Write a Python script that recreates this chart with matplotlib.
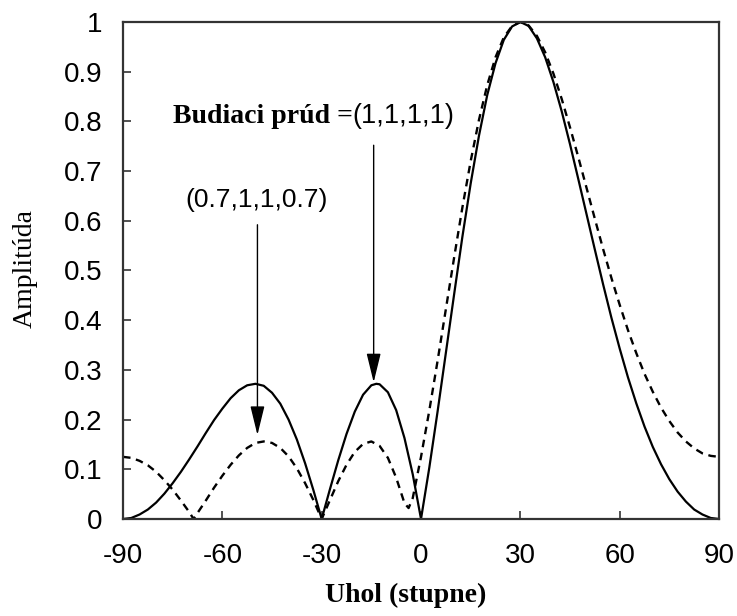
import matplotlib
matplotlib.use("Agg")
import matplotlib.pyplot as plt

# uniform feed (1,1,1,1), solid line
uhol_plny = [-90, -87.5, -85, -82.5, -80, -77.5, -75, -72.5, -70, -67.5, -65, -62.5,
             -60, -57.5, -55, -52.5, -50, -47.5, -45, -42.5, -40, -37.5, -35, -32.5,
             -30, -27.5, -25, -22.5, -20, -17.5, -15, -13.5, -12.5, -10, -7.5, -5, -2.5,
             0, 2.5, 5, 7.5, 10, 12.5, 15, 17.5, 20, 22.5, 25, 27.5,
             30, 32.5, 35, 37.5, 40, 42.5, 45, 47.5, 50, 52.5, 55, 57.5,
             60, 62.5, 65, 67.5, 70, 72.5, 75, 77.5, 80, 82.5, 85, 87.5, 90]
amp_plny = [0, 0.002, 0.009, 0.019, 0.033, 0.051, 0.072, 0.095, 0.120, 0.146, 0.173, 0.199,
            0.222, 0.243, 0.259, 0.269, 0.272, 0.268, 0.254, 0.232, 0.200, 0.160, 0.112, 0.058,
            0, 0.060, 0.118, 0.171, 0.216, 0.250, 0.269, 0.272, 0.271, 0.255, 0.219, 0.163, 0.090,
            0, 0.103, 0.216, 0.334, 0.452, 0.568, 0.675, 0.771, 0.853, 0.917, 0.964, 0.991,
            1.0, 0.992, 0.967, 0.929, 0.879, 0.820, 0.754, 0.684, 0.613, 0.542, 0.472, 0.405,
            0.343, 0.285, 0.233, 0.186, 0.145, 0.110, 0.080, 0.055, 0.035, 0.019, 0.009, 0.002, 0]

# tapered feed (0.7,1,1,0.7), dashed line
uhol_ciar = [-90, -87.5, -85, -82.5, -80, -77.5, -75, -72.5, -70, -68.7, -67.5, -65, -62.5,
             -60, -57.5, -55, -52.5, -50, -47.5, -45, -42.5, -40, -37.5, -35, -32.5,
             -30, -27.5, -25, -22.5, -20, -17.5, -15, -12.5, -10, -7.5, -5, -3.75, -2.5,
             0, 2.5, 5, 7.5, 10, 12.5, 15, 17.5, 20, 22.5, 25, 27.5,
             30, 32.5, 35, 37.5, 40, 42.5, 45, 47.5, 50, 52.5, 55, 57.5,
             60, 62.5, 65, 67.5, 70, 72.5, 75, 77.5, 80, 82.5, 85, 87.5, 90]
amp_ciar = [0.125, 0.123, 0.117, 0.108, 0.095, 0.078, 0.059, 0.037, 0.014, 0, 0.012, 0.037, 0.063,
            0.087, 0.109, 0.128, 0.143, 0.153, 0.156, 0.153, 0.143, 0.126, 0.102, 0.072, 0.038,
            0, 0.038, 0.076, 0.109, 0.135, 0.151, 0.156, 0.147, 0.123, 0.083, 0.032, 0.022, 0.042,
            0.125, 0.218, 0.318, 0.422, 0.526, 0.627, 0.720, 0.803, 0.873, 0.929, 0.969, 0.992,
            1.0, 0.993, 0.972, 0.939, 0.896, 0.845, 0.788, 0.728, 0.666, 0.604, 0.543, 0.485,
            0.431, 0.380, 0.334, 0.292, 0.256, 0.224, 0.197, 0.174, 0.156, 0.142, 0.132, 0.127, 0.125]

x_ticks = [-90, -60, -30, 0, 30, 60, 90]
y_ticks = [0, 0.1, 0.2, 0.3, 0.4, 0.5, 0.6, 0.7, 0.8, 0.9, 1]
y_labels = ["0", "0.1", "0.2", "0.3", "0.4", "0.5", "0.6", "0.7", "0.8", "0.9", "1"]

SANS = "Liberation Sans"
SERIF = "Liberation Serif"

fig = plt.figure(figsize=(7.37, 6.16), dpi=100)
ax = fig.add_axes([0.1669, 0.1575, 0.8087, 0.8068])

ax.plot(uhol_plny, amp_plny, color="black", lw=1.6, solid_joinstyle="round")
ax.plot(uhol_ciar, amp_ciar, color="black", lw=1.7, linestyle=(0, (3.2, 2.4)))

ax.set_xlim(-90, 90)
ax.set_ylim(0, 1)
ax.set_xticks(x_ticks)
ax.set_xticklabels([str(t) for t in x_ticks], fontsize=20, family=SANS)
ax.set_yticks(y_ticks)
ax.set_yticklabels(y_labels, fontsize=20, family=SANS)
ax.tick_params(axis="both", direction="in", length=6, width=1.2, color="#333333")
ax.tick_params(axis="x", pad=17)
ax.tick_params(axis="y", pad=15)
for s in ax.spines.values():
    s.set_linewidth(1.6)
    s.set_color("#333333")

ax.set_xlabel("Uhol (stupne)", fontsize=20, family=SERIF, fontweight="bold")
ax.xaxis.set_label_coords(0.475, -0.128)
ax.set_ylabel("Amplitúda", fontsize=20, family=SERIF)
ax.yaxis.set_label_coords(-0.143, 0.505)

arrow = dict(arrowstyle="-|>,head_length=0.9,head_width=0.22", color="black",
             lw=1.0, mutation_scale=20, shrinkA=0, shrinkB=0)
ax.annotate("", xy=(-14.3, 0.275), xytext=(-14.3, 0.752), arrowprops=arrow)
ax.annotate("", xy=(-49.4, 0.169), xytext=(-49.4, 0.592), arrowprops=arrow)

ax.text(-74.8, 0.797, "Budiaci prúd =", fontsize=20, family=SERIF, fontweight="bold",
        va="baseline", ha="left")
ax.text(-20.7, 0.797, "(1,1,1,1)", fontsize=19.5, family=SANS, va="baseline", ha="left")
ax.text(-71.1, 0.628, "(0.7,1,1,0.7)", fontsize=19, family=SANS, va="baseline", ha="left")

fig.savefig("out.png", dpi=100)
